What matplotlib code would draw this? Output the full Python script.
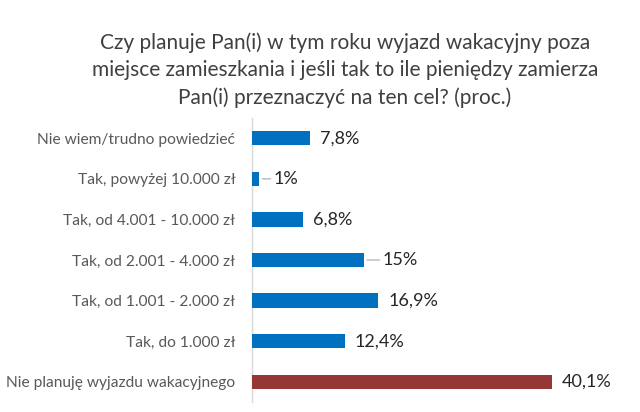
import matplotlib
matplotlib.use("Agg")
import matplotlib.pyplot as plt

# answers, top to bottom as shown
categories = [
    "Nie wiem/trudno powiedzieć",
    "Tak, powyżej 10.000 zł",
    "Tak, od 4.001 - 10.000 zł",
    "Tak, od 2.001 - 4.000 zł",
    "Tak, od 1.001 - 2.000 zł",
    "Tak, do 1.000 zł",
    "Nie planuję wyjazdu wakacyjnego",
]
values = [7.8, 1.0, 6.8, 15.0, 16.9, 12.4, 40.1]
value_labels = ["7,8%", "1%", "6,8%", "15%", "16,9%", "12,4%", "40,1%"]
bar_colors = ["#0070C0"] * 6 + ["#953735"]
# leader line length in points (0 = no leader)
leader = [0, 10, 0, 13, 0, 0, 0]

title = ("Czy planuje Pan(i) w tym roku wyjazd wakacyjny poza\n"
         "miejsce zamieszkania i jeśli tak to ile pieniędzy zamierza\n"
         "Pan(i) przeznaczyć na ten cel? (proc.)")

plt.rcParams['font.family'] = ['Lato', 'DejaVu Sans']

fig = plt.figure(figsize=(6.4, 4.12), dpi=100)
ax = fig.add_axes([252 / 640, 10 / 412, 378 / 640, 284 / 412])

y = list(range(len(categories)))
ax.barh(y, values, height=0.35, color=bar_colors, zorder=3)
ax.set_ylim(len(categories) - 0.5, -0.5)
ax.set_xlim(0, 50.5)

for yi, v, lab, ld in zip(y, values, value_labels, leader):
    if ld:
        ax.annotate(lab, xy=(v, yi), xytext=(ld, 0), textcoords="offset points",
                    va="center", ha="left", fontsize=13, color="#262626",
                    arrowprops=dict(arrowstyle="-", color="#a6a6a6", lw=0.8,
                                    shrinkA=0, shrinkB=2))
    else:
        ax.annotate(lab, xy=(v, yi), xytext=(7, 0), textcoords="offset points",
                    va="center", ha="left", fontsize=13, color="#262626")

ax.set_yticks(y)
ax.set_yticklabels(categories, fontsize=11.2, color="#595959")
ax.tick_params(axis="y", length=0, pad=12)
ax.set_xticks([])
for side in ["top", "right", "bottom"]:
    ax.spines[side].set_visible(False)
ax.spines["left"].set_color("#d9d9d9")
ax.spines["left"].set_linewidth(1)

fig.text(345 / 640, 1 - 70 / 412, title, ha="center", va="center",
         fontsize=15, color="#404040", linespacing=1.45)

fig.savefig("out.png", dpi=100)
